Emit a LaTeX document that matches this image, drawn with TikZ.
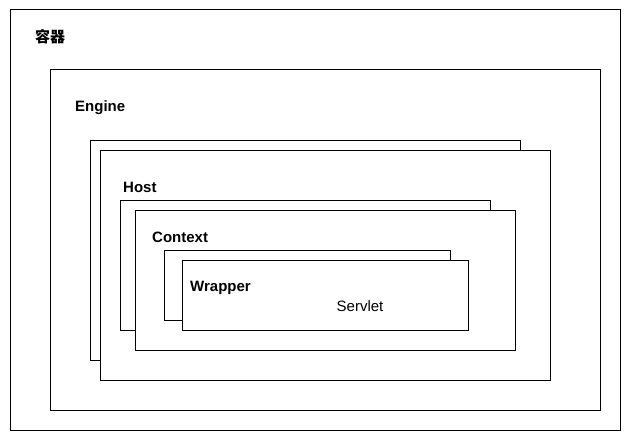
\documentclass[tikz,border=0pt]{standalone}
\usepackage{fontspec}
\setmainfont{Liberation Sans}
\newfontfamily\cjk{Noto Sans CJK SC}
\begin{document}
\begin{tikzpicture}[x=1pt,y=-1pt,
  box/.style={draw=black,fill=white,line width=1pt},
  lbl/.style={anchor=west,inner sep=0pt,font=\fontsize{15}{18}\selectfont\bfseries},
  txt/.style={inner sep=0pt,font=\fontsize{15}{18}\selectfont}]
\useasboundingbox (0,0) rectangle (631,441);
\draw[box] (10,10) rectangle (620,430);
\draw[box] (50,70) rectangle (600,410);
\draw[box] (90,140) rectangle (520,360);
\draw[box] (100,150) rectangle (550,380);
\draw[box] (120,200) rectangle (490,330);
\draw[box] (135,210) rectangle (515,350);
\draw[box] (164,250) rectangle (450,320);
\draw[box] (182,260) rectangle (468,330);
\node[lbl] (container) at (35,37) {\cjk\bfseries 容器};
\node[lbl] (engine) at (75,107.5) {Engine};
\node[lbl] (host) at (123,187.5) {Host};
\node[lbl] (context) at (152,237.5) {Context};
\node[lbl] (wrapper) at (190,287.5) {Wrapper};
\node[txt] (servlet) at (360,306.5) {Servlet};
\end{tikzpicture}
\end{document}
